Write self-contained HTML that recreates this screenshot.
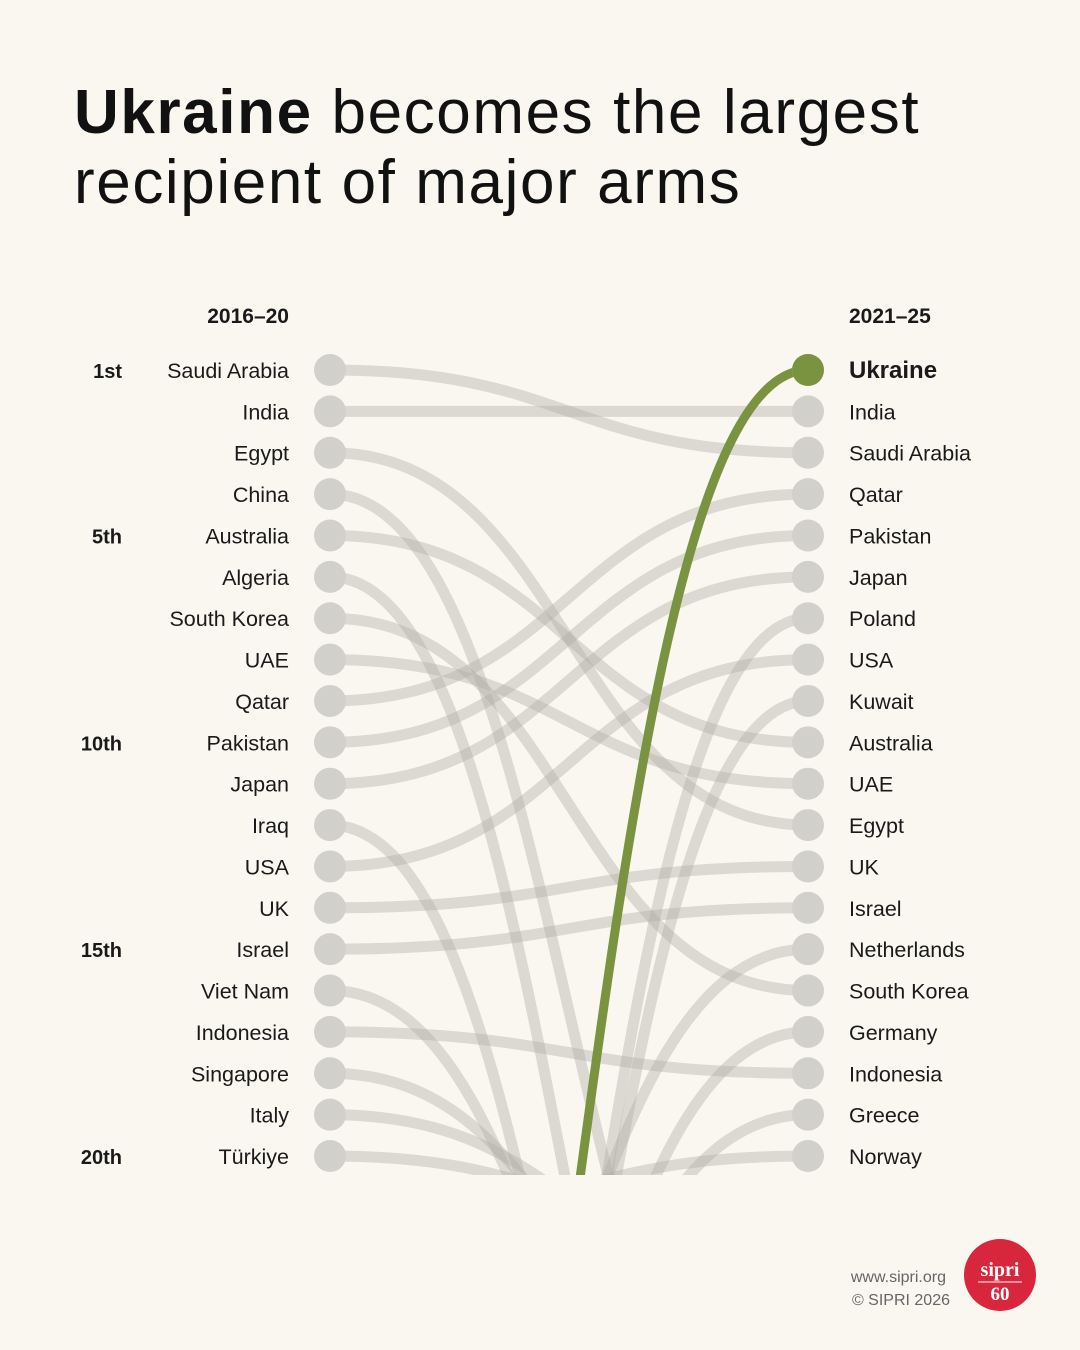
<!DOCTYPE html>
<html><head><meta charset="utf-8"><style>
html,body{margin:0;padding:0;background:#f9f7f0;width:1080px;height:1350px;overflow:hidden;}
body{position:relative;font-family:"Liberation Sans",sans-serif;}
h1{position:absolute;left:74px;top:78px;margin:0;font-size:62px;font-weight:400;line-height:70px;color:#111;letter-spacing:1.6px;white-space:nowrap}
h1 b{font-weight:700}
svg{display:block}
</style></head><body>
<h1><b>Ukraine</b> becomes the largest<br>recipient of major arms</h1>
<svg id="chart" width="1080" height="1350" style="position:absolute;left:0;top:0"></svg>
<script>
const leftCountries=["Saudi Arabia","India","Egypt","China","Australia","Algeria","South Korea","UAE","Qatar","Pakistan","Japan","Iraq","USA","UK","Israel","Viet Nam","Indonesia","Singapore","Italy","Türkiye"];
const rightCountries=["Ukraine","India","Saudi Arabia","Qatar","Pakistan","Japan","Poland","USA","Kuwait","Australia","UAE","Egypt","UK","Israel","Netherlands","South Korea","Germany","Indonesia","Greece","Norway"];
const outRanksLeft={"China":29,"Algeria":36,"Iraq":40,"Viet Nam":33,"Singapore":26,"Italy":23,"Türkiye":22};
const outRanksRight={"Ukraine":44,"Poland":46,"Kuwait":46,"Netherlands":31,"Germany":36,"Greece":33,"Norway":21.6};
const rankLabels={1:"1st",5:"5th",10:"10th",15:"15th",20:"20th"};
const NS="http://www.w3.org/2000/svg";
const svg=document.getElementById('chart');
const xL=330,xR=808,y0=370,step=41.37;
const y=r=>y0+(r-1)*step;
function mk(t,a,p){const e=document.createElementNS(NS,t);for(const k in a)e.setAttribute(k,a[k]);(p||svg).appendChild(e);return e;}
const defs=mk('defs',{});const cp=mk('clipPath',{id:'clip'},defs);mk('rect',{x:0,y:0,width:1080,height:1175},cp);
const g=mk('g',{'clip-path':'url(#clip)'});
function path(r1,r2){const y1=y(r1),y2=y(r2),xm=(xL+xR)/2;return `M${xL},${y1} C${xm},${y1} ${xm},${y2} ${xR},${y2}`;}
const links=[];
leftCountries.forEach((c,i)=>{const j=rightCountries.indexOf(c);links.push([c,i+1,j>=0?j+1:outRanksLeft[c]]);});
rightCountries.forEach((c,j)=>{if(leftCountries.indexOf(c)<0)links.push([c,outRanksRight[c],j+1]);});
links.forEach(l=>{if(l[0]==="Ukraine")return;
 const p=mk('path',{d:path(l[1],l[2]),fill:'none',stroke:'rgba(175,172,164,0.4)','stroke-width':11},g);
 
 });
for(let i=0;i<20;i++){
 const a=mk('circle',{cx:xL,cy:y(i+1),r:16,fill:'#d2d0cb'});
 
 const b=mk('circle',{cx:xR,cy:y(i+1),r:16,fill:'#d2d0cb'});
 }
const uk=links.find(l=>l[0]==="Ukraine");
const up=mk('path',{d:path(uk[1],uk[2]),fill:'none',stroke:'#7a9341','stroke-width':9},g);

const ud=mk('circle',{cx:xR,cy:y(1),r:16,fill:'#7a9341'});

function txt(s,x,yy,anchor,w,size,name){const t=mk('text',{x:x,y:yy,'text-anchor':anchor,'font-size':size,'font-weight':w,fill:'#1a1a1a','font-family':'Liberation Sans, sans-serif'});t.textContent=s;
 return t;}
txt("2016–20",289,323,'end',700,21,'left-column-header');
txt("2021–25",849,323,'start',700,21,'right-column-header');
leftCountries.forEach((c,i)=>txt(c,289,y(i+1)+8,'end',400,21.5,'left-label'));
rightCountries.forEach((c,i)=>txt(c,849,y(i+1)+8,'start',c==="Ukraine"?700:400,c==="Ukraine"?24:21.5,'right-label'));
Object.keys(rankLabels).forEach(r=>txt(rankLabels[r],122,y(+r)+8,'end',700,20,'rank-label'));
const f1=txt("www.sipri.org",946,1282,'end',400,16,'footer-url');f1.setAttribute('fill','#666');
const f2=txt("© SIPRI 2026",950,1305,'end',400,16,'footer-copyright');f2.setAttribute('fill','#666');
const lg=mk('g',{});
mk('circle',{cx:1000,cy:1275,r:36,fill:'#d8263c'},lg);
const s1=mk('text',{x:1000,y:1276,'text-anchor':'middle','font-size':20,'font-weight':700,fill:'#fff','font-family':'Liberation Serif, serif'},lg);s1.textContent="sipri";
mk('line',{x1:978,y1:1282,x2:1022,y2:1282,stroke:'#fff','stroke-width':1},lg);
const s2=mk('text',{x:1000,y:1300,'text-anchor':'middle','font-size':19,'font-weight':700,fill:'#fff','font-family':'Liberation Serif, serif'},lg);s2.textContent="60";
</script>
</body></html>
